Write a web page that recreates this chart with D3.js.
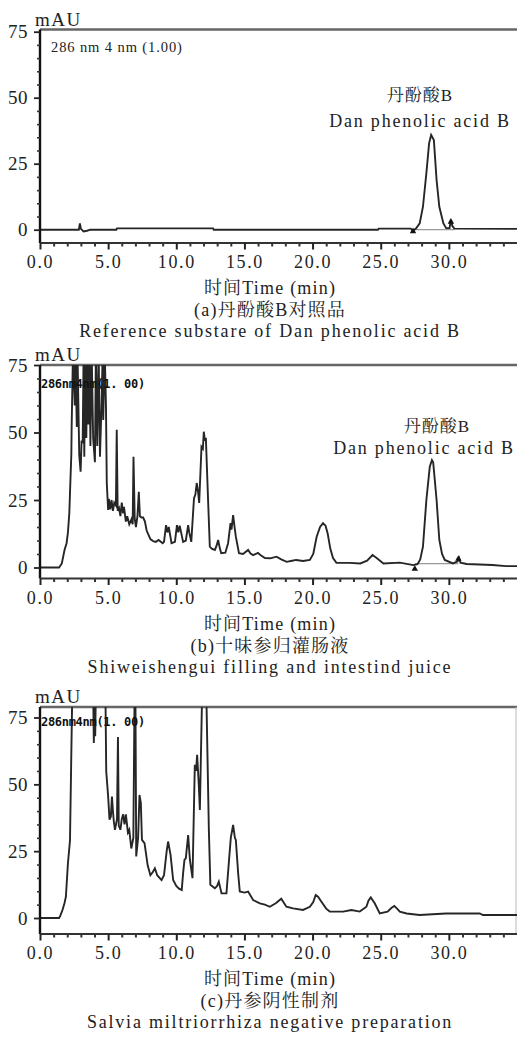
<!DOCTYPE html>
<html><head><meta charset="utf-8">
<script src="https://cdn.jsdelivr.net/npm/d3@7/dist/d3.min.js"></script>
<style>
html,body{margin:0;padding:0;background:#fff;}
svg{display:block;}
</style></head>
<body>
<svg id="chart" width="517" height="1041"></svg>
<script>
// ---------------- DATA ----------------
const xTickValues = [0, 5, 10, 15, 20, 25, 30];
const xMinorTicks = d3.range(0, 35, 1);
const yTickValues = [0, 25, 50, 75];
const yMinorTicks = d3.range(0, 80, 5);
const xAxisTitle = "时间Time (min)";

const timeA = [0,2.85,2.93,3.0,3.2,3.45,3.7,5.6,5.65,12.7,12.75,24.8,24.85,27.2,27.37,27.6,27.86,28.1,28.35,28.55,28.7,28.9,29.1,29.3,29.6,29.8,30.05,30.15,30.25,30.4,35];
const absA  = [0,0,2.4,0.3,-0.7,-0.4,0,0,0.5,0.5,0,0,0.4,0.4,-0.4,0.5,2.4,8.7,21.4,32.7,35.9,34,18.8,8.7,2.4,0.6,0.6,3.7,1.5,0.4,0.3];

const timeB = [0,1.4,1.6,1.8,1.95,2.05,2.15,2.2,2.3,2.32,2.42,2.55,2.6,2.7,2.75,2.88,2.98,3.05,3.13,3.2,3.25,3.32,3.4,3.47,3.55,3.62,3.7,3.79,3.9,4.03,4.1,4.2,4.3,4.4,4.52,4.6,4.64,4.75,4.84,4.9,5.0,5.05,5.15,5.25,5.35,5.45,5.57,5.63,5.7,5.8,5.9,6.0,6.1,6.16,6.3,6.4,6.55,6.72,6.8,6.86,6.95,7.04,7.15,7.25,7.33,7.45,7.57,7.7,7.82,7.9,8.1,8.3,8.5,8.7,9.0,9.1,9.25,9.35,9.45,9.65,9.9,10.05,10.15,10.25,10.5,10.7,10.87,10.95,11.1,11.3,11.4,11.5,11.6,11.68,11.85,11.95,12.02,12.1,12.17,12.34,12.46,12.6,12.83,12.95,13.07,13.2,13.3,13.6,13.8,13.98,14.05,14.17,14.3,14.37,14.6,14.9,15.27,15.45,15.64,16.0,16.2,16.5,16.9,17.35,17.7,18.1,18.5,18.8,19.3,19.8,20.05,20.3,20.55,20.77,20.95,21.1,21.3,21.5,21.75,22.7,23.5,24.0,24.4,24.7,25.2,26.4,27.4,27.7,27.9,28.1,28.35,28.6,28.76,28.85,29.1,29.3,29.5,29.7,30.3,30.65,30.75,30.85,31.3,33.2,34.2,35];
const absB  = [0,0,1.5,6.5,9,13,20,27.5,42,51.5,80,60,80,52,80,41.6,35.5,47,46,80,41,80,48,80,53,80,45,80,48,39,80,45,80,41,61,80,54.6,80,60,31.2,21.3,25.4,21.5,25,21,24,23,51,21,22,19,24,20,22.5,17,19,16,18,16,41,18,15,19,28,19,18.5,18.5,17,13.8,12.8,10.5,9.8,9.5,10.2,9,9.5,15.7,13,15,9,9.5,15.7,13,15.5,9.5,10,15.7,13,9.5,25.7,27,31.3,28,23.9,44.7,44,50.3,47,48,24,7.7,7,6.5,8,10.2,7,5.3,5.5,9,16.4,14,19.4,14,11.4,5.3,5,6.5,5.2,4.6,5.4,4.5,3.5,3.4,4,3,2.1,2.5,2.8,2.4,2.8,5,11.4,15,16.4,15.5,12.8,7,3.5,1.7,1.7,1.5,2.5,4.6,3.5,1.5,1.8,0.9,1.2,3,7.7,25,37.3,39.8,39,25,10.2,5,2.8,1.5,2.3,3.5,1.8,1.3,0.9,0.5,0.5];

const timeC = [0,1.4,1.5,1.65,1.8,1.9,2.05,2.2,2.37,3.9,3.95,4.0,4.05,4.1,4.8,4.86,5.0,5.1,5.2,5.28,5.35,5.42,5.5,5.65,5.72,5.78,5.9,6.0,6.1,6.2,6.3,6.45,6.55,6.7,6.85,6.94,7.0,7.06,7.2,7.3,7.4,7.48,7.67,7.9,8.1,8.28,8.43,8.6,8.92,9.1,9.29,9.4,9.58,9.77,10.0,10.2,10.4,10.5,10.6,10.7,10.87,11.0,11.19,11.36,11.45,11.53,11.65,11.73,11.9,12.2,12.39,12.5,12.83,13.0,13.12,13.32,13.68,13.88,14.0,14.17,14.3,14.37,14.54,14.66,15.0,15.27,15.64,16.13,16.5,16.86,17.3,17.7,18.08,18.57,19.3,19.8,20.05,20.23,20.4,20.65,21.0,21.26,22.24,22.85,23.46,23.95,24.1,24.27,24.56,24.93,25.5,25.8,26.0,26.2,26.4,26.9,27.86,28.8,29.8,32.26,32.5,35];
const absC  = [0,0,1,3,5.6,8,20.5,29,85,85,65.5,85,68,85,85,54.8,45.5,36.8,38,45.4,40,36,33,37,67.7,34.6,33,37,38.8,35,38.8,32,33,26,30,85,85,23,30,46,43,29.2,28,19.7,16,17.2,18.6,16,14.2,16,24.8,28.6,23.6,14.2,12,11,10.5,16.7,21.7,22.3,31,21.7,14.9,57.3,55,61,50,40.4,85,85,33,12.4,11.1,12,13.6,9.2,9.2,22.3,30,34.8,30,29.2,16.7,9.9,9.5,9.9,6.7,5.5,5,4.2,5.5,7.2,4.2,3.6,3,4.2,6,8.6,8,6.1,3.5,2.4,2.4,3,2.4,4.2,6.5,7.7,5.5,1.7,2.4,3.8,4.5,3.5,2.4,1.7,1.1,1.4,1.7,1.7,1.1,1.1];

const methodLabels = ["286 nm 4 nm (1.00)", "286nm4nm(1. 00)", "286nm4nm(1. 00)"];
const titlesCn = ["(a)丹酚酸B对照品", "(b)十味参归灌肠液", "(c)丹参阴性制剂"];
const titlesEn = ["Reference substare of Dan phenolic acid B", "Shiweishengui filling and intestind juice", "Salvia miltriorrhiza negative preparation"];
const peakNameCn = "丹酚酸B";
const peakNameEn = "Dan phenolic acid B";
const baselineA = [27.37, 30.4, 0];
const baselineB = [27.5, 30.7, 1.4];
const markersA = [[27.37, -0.6], [30.15, 3.0]];
const markersB = [[27.5, -0.5], [30.7, 3.2]];

// ---------------- LAYOUT ----------------
const SERIF = "'Liberation Serif', 'Times New Roman', Times, 'Noto Serif CJK SC', 'Noto Sans CJK SC', serif";
const panels = [
  {time: timeA, abs: absA, y0: 229.7, y75: 31.7, frameTop: 29.5, bottom: 243, bold: false,
   ann: {cnX: 420, cnY: 101, enX: 420, enY: 127}, base: baselineA, markers: markersA},
  {time: timeB, abs: absB, y0: 567.5, y75: 365, frameTop: 365, bottom: 578.5, bold: true,
   ann: {cnX: 437, cnY: 432, enX: 424, enY: 454}, base: baselineB, markers: markersB},
  {time: timeC, abs: absC, y0: 918, y75: 717.5, frameTop: 707, bottom: 934, bold: true,
   ann: null, base: null, markers: [], rightEdge: true}
];
const left = 40, right = 517;
const svg = d3.select("#chart");
const x = d3.scaleLinear().domain([0, 35]).range([left, right]);
const fmt = d3.format(".1f");

function serifText(sel, size, spacing) {
  return sel.attr("font-family", SERIF).attr("font-size", size)
    .attr("letter-spacing", spacing).attr("fill", "#222");
}

panels.forEach((p, i) => {
  const y = d3.scaleLinear().domain([0, 75]).range([p.y0, p.y75]);
  const g = svg.append("g");
  const clipId = "clip" + i;
  g.append("clipPath").attr("id", clipId).append("rect")
    .attr("x", left).attr("y", p.frameTop).attr("width", right - left).attr("height", p.bottom - p.frameTop);

  g.append("line").attr("x1", left).attr("x2", right).attr("y1", p.frameTop).attr("y2", p.frameTop)
    .attr("stroke", "#666").attr("stroke-width", 2.4);
  if (p.rightEdge) {
    g.append("line").attr("x1", 516).attr("x2", 516).attr("y1", p.frameTop).attr("y2", p.bottom)
      .attr("stroke", "#bbb").attr("stroke-width", 1);
  }

  if (p.base) {
    g.append("line").attr("x1", x(p.base[0])).attr("x2", x(p.base[1]))
      .attr("y1", y(p.base[2])).attr("y2", y(p.base[2])).attr("stroke", "#999").attr("stroke-width", 1.2);
  }

  const line = d3.line().x((d, k) => x(p.time[k])).y(d => y(d)).curve(d3.curveLinear);
  g.append("path").datum(p.abs).attr("d", line).attr("fill", "none")
    .attr("stroke", "#262626").attr("stroke-width", 1.9).attr("stroke-linejoin", "miter")
    .attr("clip-path", `url(#${clipId})`);

  p.markers.forEach(m => {
    g.append("path").attr("d", d3.symbol().type(d3.symbolTriangle).size(18)())
      .attr("transform", `translate(${x(m[0])},${y(m[1])})`).attr("fill", "#111");
  });

  g.append("line").attr("x1", left).attr("x2", left).attr("y1", p.frameTop).attr("y2", p.bottom)
    .attr("stroke", "#111").attr("stroke-width", 2.4);
  g.append("line").attr("x1", left).attr("x2", right).attr("y1", p.bottom).attr("y2", p.bottom)
    .attr("stroke", "#333").attr("stroke-width", 2);

  const xMinor = g.append("g").attr("transform", `translate(0,${p.bottom})`)
    .call(d3.axisBottom(x).tickValues(xMinorTicks.filter(v => v % 5 !== 0)).tickSize(3.5).tickFormat(""));
  xMinor.select(".domain").remove();
  xMinor.selectAll("line").attr("stroke", "#333").attr("stroke-width", 2);
  const xMajor = g.append("g").attr("transform", `translate(0,${p.bottom})`)
    .call(d3.axisBottom(x).tickValues(xTickValues).tickSize(6.5).tickPadding(6).tickFormat(fmt));
  xMajor.attr("font-family", null).select(".domain").remove();
  xMajor.selectAll("line").attr("stroke", "#222").attr("stroke-width", 2);
  serifText(xMajor.selectAll("text"), 18, 1.6);

  const yMinor = g.append("g").attr("transform", `translate(${left},0)`)
    .call(d3.axisLeft(y).tickValues(yMinorTicks.filter(v => v % 25 !== 0)).tickSize(3).tickFormat(""));
  yMinor.select(".domain").remove();
  yMinor.selectAll("line").attr("stroke", "#333").attr("stroke-width", 1.6);
  const yMajor = g.append("g").attr("transform", `translate(${left},0)`)
    .call(d3.axisLeft(y).tickValues(yTickValues).tickSize(6).tickPadding(6).tickFormat(d3.format("d")));
  yMajor.attr("font-family", null).select(".domain").remove();
  yMajor.selectAll("line").attr("stroke", "#222").attr("stroke-width", 1.8);
  serifText(yMajor.selectAll("text"), 19, 0.5);

  serifText(g.append("text").attr("x", 35).attr("y", p.frameTop - 4), 19, 1.5).text("mAU");

  if (!p.bold) {
    serifText(g.append("text").attr("x", 51).attr("y", p.y75 + 20), 14.5, 0.9).text(methodLabels[i]);
  } else {
    g.append("text").attr("x", 41).attr("y", p.y75 + (i === 1 ? 23 : 8))
      .attr("font-family", "'DejaVu Sans Mono', monospace").attr("font-weight", "bold")
      .attr("font-size", 12).attr("letter-spacing", -0.3).attr("fill", "#111").text(methodLabels[i]);
  }

  if (p.ann) {
    serifText(g.append("text").attr("x", p.ann.cnX).attr("y", p.ann.cnY).attr("text-anchor", "middle"), 17, 1)
      .text(peakNameCn);
    serifText(g.append("text").attr("x", p.ann.enX).attr("y", p.ann.enY).attr("text-anchor", "middle"), 18, 1.8)
      .text(peakNameEn);
  }

  serifText(g.append("text").attr("x", 270).attr("y", p.bottom + 51).attr("text-anchor", "middle"), 18, 1.2)
    .text(xAxisTitle);
  serifText(g.append("text").attr("x", 270).attr("y", p.bottom + 73).attr("text-anchor", "middle"), 18, 1.2)
    .text(titlesCn[i]);
  serifText(g.append("text").attr("x", 270).attr("y", p.bottom + 94).attr("text-anchor", "middle"), 18, 1.8)
    .text(titlesEn[i]);
});
</script>
</body></html>
